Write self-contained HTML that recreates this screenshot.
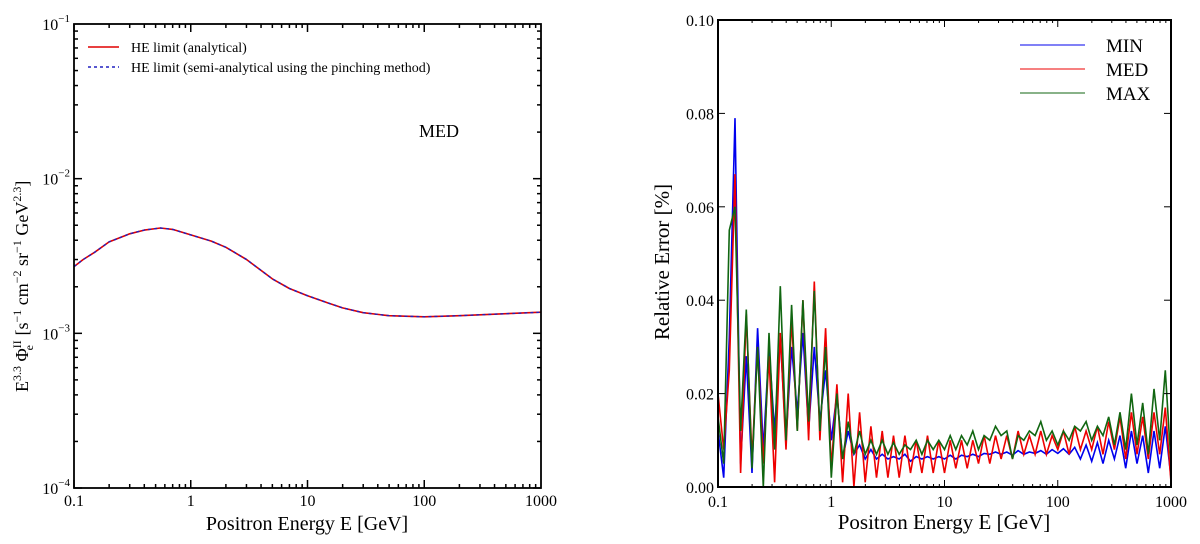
<!DOCTYPE html>
<html><head><meta charset="utf-8"><style>
body{margin:0;background:#fff;width:1200px;height:544px;overflow:hidden}
svg{display:block;font-family:"Liberation Serif","DejaVu Serif",serif}
</style></head><body>
<svg id="svg" width="1200" height="544" viewBox="0 0 1200 544"></svg>
<script>
// ---- Left chart data ----
const leftEnergies=[0.1,0.12,0.15,0.2,0.3,0.4,0.55,0.7,1,1.5,2,3,5,7,10,15,20,30,50,100,200,500,1000];
const leftFlux=[2.7e-3,3.0e-3,3.34e-3,3.9e-3,4.4e-3,4.65e-3,4.8e-3,4.7e-3,4.33e-3,3.95e-3,3.6e-3,3.0e-3,2.25e-3,1.95e-3,1.75e-3,1.57e-3,1.46e-3,1.36e-3,1.3e-3,1.28e-3,1.3e-3,1.34e-3,1.37e-3];
const leftYTickExp=[-4,-3,-2,-1];
const leftXTickLabels=["0.1","1","10","100","1000"];
// ---- Right chart data ----
const rightYTicks=[0.00,0.02,0.04,0.06,0.08,0.10];
const rightYTickLabels=["0.00","0.02","0.04","0.06","0.08","0.10"];
const rightXTickLabels=["0.1","1","10","100","1000"];
const errMIN=[.012,.002,.032,.079,.005,.028,.003,.034,.008,.030,.012,.032,.010,.030,.016,.033,.012,.030,.014,.025,.010,.020,.006,.012,.007,.009,.006,.008,.006,.007,.006,.0065,.006,.007,.0055,.0065,.006,.0065,.006,.0065,.006,.0068,.006,.0068,.0065,.007,.0065,.0072,.007,.0075,.007,.0075,.0068,.0078,.007,.0075,.0072,.0078,.007,.008,.0072,.0082,.007,.0085,.006,.009,.0055,.0095,.005,.010,.006,.011,.004,.012,.005,.011,.003,.012,.004,.013,.002];
const errMED=[.020,.008,.025,.067,.003,.037,.006,.030,.005,.028,.001,.033,.008,.036,.012,.040,.010,.044,.010,.034,.004,.022,.001,.020,.000,.016,.001,.013,.002,.012,.002,.011,.002,.011,.003,.010,.003,.011,.003,.010,.003,.010,.004,.010,.004,.010,.005,.011,.005,.011,.006,.011,.006,.012,.007,.011,.007,.012,.007,.011,.008,.012,.007,.013,.008,.012,.008,.013,.007,.014,.008,.015,.006,.016,.007,.015,.006,.016,.007,.017,.001];
const errMAX=[.015,.005,.055,.060,.012,.038,.004,.030,.000,.033,.008,.043,.010,.039,.012,.040,.014,.042,.012,.030,.002,.020,.006,.014,.007,.012,.007,.010,.007,.010,.007,.0095,.007,.009,.008,.010,.007,.010,.008,.010,.008,.011,.008,.011,.009,.012,.008,.011,.010,.013,.011,.012,.006,.011,.010,.012,.011,.014,.010,.012,.009,.012,.010,.013,.012,.014,.010,.013,.011,.015,.009,.016,.008,.020,.009,.018,.007,.021,.010,.025,.005];

const NS="http://www.w3.org/2000/svg";
const svg=document.getElementById('svg');
function mk(tag,attrs,parent){const e=document.createElementNS(NS,tag);for(const k in attrs)e.setAttribute(k,attrs[k]);(parent||svg).appendChild(e);return e;}

// ===== LEFT =====
const L={x0:74,x1:541,y0:24,y1:488};
const lx=v=>L.x0+(Math.log10(v)+1)/4*(L.x1-L.x0);
const ly=v=>L.y1-(Math.log10(v)+4)/3*(L.y1-L.y0);
const gL=mk('g',{});


for(let d=-1;d<3;d++)for(let m=1;m<=9;m++){const v=Math.pow(10,d)*m;const X=lx(v);const len=m===1?8:4;
 const t1=mk('line',{x1:X,y1:L.y1,x2:X,y2:L.y1-len,stroke:'#000','stroke-width':1.5},gL);
 mk('line',{x1:X,y1:L.y0,x2:X,y2:L.y0+len,stroke:'#000','stroke-width':1.5},gL);}
for(let d=-4;d<-1;d++)for(let m=1;m<=9;m++){const v=Math.pow(10,d)*m;const Y=ly(v);const len=m===1?8:4;
 const t=mk('line',{x1:L.x0,y1:Y,x2:L.x0+len,y2:Y,stroke:'#000','stroke-width':1.5},gL);
 mk('line',{x1:L.x1,y1:Y,x2:L.x1-len,y2:Y,stroke:'#000','stroke-width':1.5},gL);}
leftYTickExp.forEach(e=>{const t=mk('text',{x:L.x0-4,y:ly(Math.pow(10,e))+6,'text-anchor':'end','font-size':16,fill:'#000'},gL);
 
 t.innerHTML='10<tspan dy="-8" font-size="11">−'+(-e)+'</tspan>';});
leftXTickLabels.forEach((s,i)=>{const t=mk('text',{x:lx(Math.pow(10,i-1)),y:L.y1+18,'text-anchor':'middle','font-size':16,fill:'#000'},gL);
 t.textContent=s;});
const lpts=leftEnergies.map((e,i)=>lx(e).toFixed(1)+','+ly(leftFlux[i]).toFixed(1)).join(' ');
const c1=mk('polyline',{points:lpts,fill:'none',stroke:'#e00000','stroke-width':1.6,'stroke-linejoin':'round'},gL);

const c2=mk('polyline',{points:lpts,fill:'none',stroke:'#2020c0','stroke-width':1.4,'stroke-dasharray':'3,3'},gL);

const fL=mk('rect',{x:L.x0,y:L.y0,width:L.x1-L.x0,height:L.y1-L.y0,fill:'none',stroke:'#000','stroke-width':1.8},gL);

const lg=mk('g',{},gL);
mk('line',{x1:88,y1:47,x2:119,y2:47,stroke:'#e00000','stroke-width':1.5},lg);
mk('line',{x1:88,y1:67,x2:119,y2:67,stroke:'#2020c0','stroke-width':1.5,'stroke-dasharray':'3,3'},lg);
let t=mk('text',{x:131,y:52,'font-size':14},lg);t.textContent='HE limit (analytical)';
t=mk('text',{x:131,y:72,'font-size':14},lg);t.textContent='HE limit (semi-analytical using the pinching method)';
t=mk('text',{x:419,y:137,'font-size':18},gL);t.textContent='MED';

t=mk('text',{x:307,y:530,'text-anchor':'middle','font-size':20},gL);t.textContent='Positron Energy E [GeV]';

t=mk('text',{x:0,y:0,'font-size':18,transform:'translate(28,392) rotate(-90)'},gL);
t.innerHTML='E<tspan dy="-7" font-size="12">3.3</tspan><tspan dy="7"> Φ</tspan><tspan dy="-7" font-size="12">II</tspan><tspan dx="-10" dy="12" font-size="12">e</tspan><tspan dx="5" dy="-5"> [s</tspan><tspan dy="-7" font-size="12">−1</tspan><tspan dy="7"> cm</tspan><tspan dy="-7" font-size="12">−2</tspan><tspan dy="7"> sr</tspan><tspan dy="-7" font-size="12">−1</tspan><tspan dy="7"> GeV</tspan><tspan dy="-7" font-size="12">2.3</tspan><tspan dy="7">]</tspan>';


// ===== RIGHT =====
const R={x0:718,x1:1171,y0:20,y1:487};
const rx=v=>R.x0+(Math.log10(v)+1)/4*(R.x1-R.x0);
const ry=v=>R.y1-v/0.10*(R.y1-R.y0);
const gR=mk('g',{});


const N=errMIN.length;
const energyAt=i=>Math.pow(10,-1+4*i/(N-1));
function series(arr,color,name,w){const p=arr.map((v,i)=>rx(energyAt(i)).toFixed(1)+','+ry(v).toFixed(1)).join(' ');
 const e=mk('polyline',{points:p,fill:'none',stroke:color,'stroke-width':w,'stroke-linejoin':'miter'},gR);
 }
series(errMIN,'#0000ee','min-series-line',1.6);
series(errMED,'#ee0000','med-series-line',1.6);
series(errMAX,'#116611','max-series-line',1.6);
for(let d=-1;d<3;d++)for(let m=1;m<=9;m++){const X=rx(Math.pow(10,d)*m);const len=m===1?7:3;
 const tk=mk('line',{x1:X,y1:R.y1,x2:X,y2:R.y1-len,stroke:'#000','stroke-width':1},gR);
 mk('line',{x1:X,y1:R.y0,x2:X,y2:R.y0+len,stroke:'#000','stroke-width':1},gR);}
rightYTicks.forEach((v,i)=>{const Y=ry(v);
 const tk=mk('line',{x1:R.x0,y1:Y,x2:R.x0+7,y2:Y,stroke:'#000','stroke-width':1},gR);
 mk('line',{x1:R.x1,y1:Y,x2:R.x1-7,y2:Y,stroke:'#000','stroke-width':1},gR);
 const l=mk('text',{x:R.x0-4,y:Y+6,'text-anchor':'end','font-size':16},gR);l.textContent=rightYTickLabels[i];
 });
rightXTickLabels.forEach((s,i)=>{const l=mk('text',{x:rx(Math.pow(10,i-1)),y:R.y1+20,'text-anchor':'middle','font-size':16},gR);
 l.textContent=s;});
const fR=mk('rect',{x:R.x0,y:R.y0,width:R.x1-R.x0,height:R.y1-R.y0,fill:'none',stroke:'#000','stroke-width':2},gR);

const rl=mk('g',{},gR);
[['MIN','#0000ee',45],['MED','#ee0000',69],['MAX','#116611',93]].forEach(a=>{
 mk('line',{x1:1020,y1:a[2],x2:1085,y2:a[2],stroke:a[1],'stroke-width':1.1},rl);
 const l=mk('text',{x:1106,y:a[2]+7,'font-size':19},rl);l.textContent=a[0];
 });
t=mk('text',{x:944,y:529,'text-anchor':'middle','font-size':21},gR);t.textContent='Positron Energy E [GeV]';

t=mk('text',{x:0,y:0,'text-anchor':'middle','font-size':21,transform:'translate(669,262) rotate(-90)'},gR);t.textContent='Relative Error [%]';

</script>
</body></html>
